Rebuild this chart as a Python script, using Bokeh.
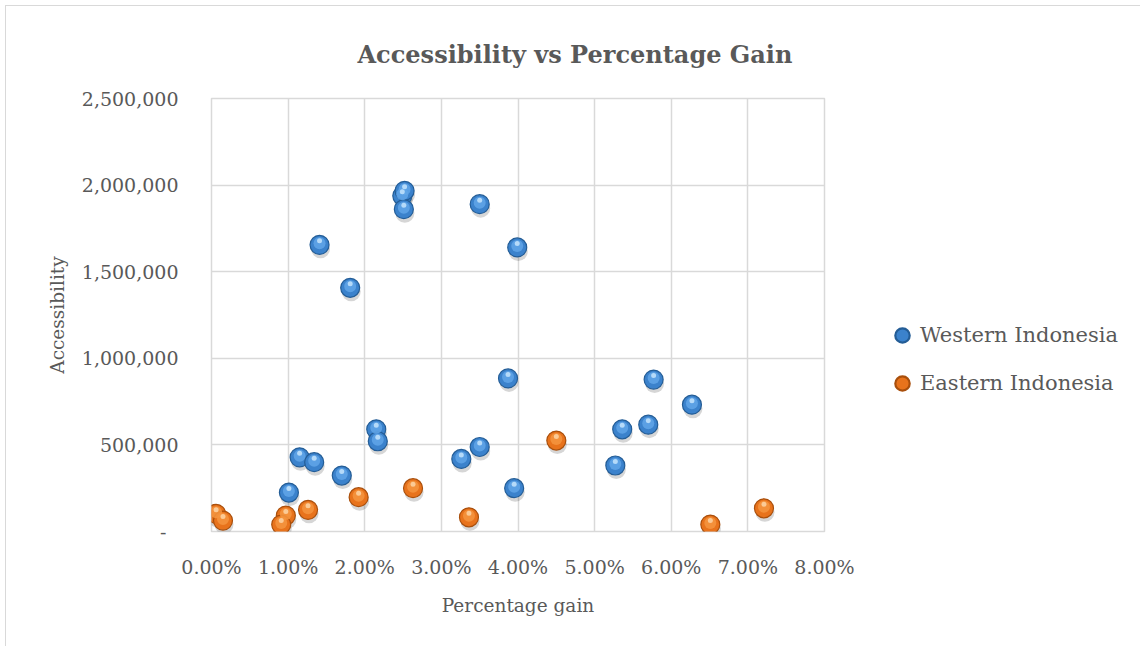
from bokeh.plotting import figure
from bokeh.layouts import row
from bokeh.models import (Range1d, FixedTicker, CustomJSTickFormatter, PrintfTickFormatter,
                          Legend, LegendItem, ColumnDataSource)
from bokeh.embed import file_html
from bokeh.resources import INLINE

# ---- data ----
west_x = [1.41, 1.81, 2.49, 2.52, 2.51, 3.50, 3.99, 3.87, 5.77, 6.27, 5.36,
          5.70, 5.27, 3.95, 3.50, 3.26, 2.15, 2.17, 1.15, 1.34, 1.70, 1.01]
west_y = [1655000, 1407000, 1938000, 1967000, 1861000, 1890000, 1640000, 884000,
          877000, 732000, 590000, 617000, 381000, 250000, 488000, 419000, 590000,
          521000, 428000, 400000, 323000, 225000]
east_x = [0.06, 0.15, 0.97, 0.91, 1.26, 1.92, 2.63, 3.36, 4.50, 6.51, 7.21]
east_y = [102000, 63000, 92000, 40000, 125000, 198000, 250000, 82000, 525000, 40000, 134000]
x_ticks = [0, 1, 2, 3, 4, 5, 6, 7, 8]
y_ticks = [0, 500000, 1000000, 1500000, 2000000, 2500000]
series_names = ["Western Indonesia", "Eastern Indonesia"]

FONT = "DejaVu Serif"
GREY = "#595959"
GRID = "#d9d9d9"

ML, MR, MT, MB = 205, 40, 92, 116
W, H = 858, 641
frame_w = W - ML - MR
frame_h = H - MT - MB

p = figure(width=W, height=H, output_backend="svg", toolbar_location=None,
           x_range=Range1d(x_ticks[0], x_ticks[-1]), y_range=Range1d(y_ticks[0], y_ticks[-1]),
           min_border_left=ML, min_border_right=MR, min_border_top=MT, min_border_bottom=MB,
           title="Accessibility vs Percentage Gain")
p.margin = (5, 0, 0, 5)
p.styles = {"border-left": "1px solid #d9d9d9", "border-top": "1px solid #d9d9d9"}

p.title.text_font = FONT
p.title.text_font_size = "24px"
p.title.text_font_style = "bold"
p.title.text_color = GREY
p.title.align = "left"
p.title.offset = 146
p.title.standoff = 60

p.outline_line_color = GRID
p.outline_line_width = 1.5
p.background_fill_color = "white"
p.border_fill_color = "white"

for ax in (p.xaxis[0], p.yaxis[0]):
    ax.axis_line_color = None
    ax.major_tick_line_color = None
    ax.minor_tick_line_color = None
    ax.major_label_text_font = FONT
    ax.major_label_text_font_size = "19px"
    ax.major_label_text_color = GREY
    ax.axis_label_text_font = FONT
    ax.axis_label_text_font_size = "18.5px"
    ax.axis_label_text_color = GREY
    ax.axis_label_text_font_style = "normal"

p.xaxis.ticker = FixedTicker(ticks=x_ticks)
p.xaxis.formatter = PrintfTickFormatter(format="%.2f%%")
p.xaxis.axis_label = "Percentage gain"
p.xaxis.major_label_standoff = 18
p.xaxis.axis_label_standoff = 14

p.yaxis.ticker = FixedTicker(ticks=y_ticks)
p.yaxis.formatter = CustomJSTickFormatter(
    code='if (tick == 0) { return "-\\u00a0\\u00a0"; } return tick.toLocaleString("en-US");')
p.yaxis.axis_label = "Accessibility"
p.yaxis.major_label_standoff = 27
p.yaxis.axis_label_standoff = 11

p.xgrid.grid_line_color = GRID
p.ygrid.grid_line_color = GRID
p.xgrid.grid_line_width = 1.5
p.ygrid.grid_line_width = 1.5

# pixel -> data conversion for small visual offsets of sphere shading
dx = (x_ticks[-1] - x_ticks[0]) / frame_w
dy = (y_ticks[-1] - y_ticks[0]) / frame_h


def shifted(xs, ys, ox, oy):
    return ColumnDataSource(dict(x=[v + ox * dx for v in xs], y=[v - oy * dy for v in ys]))


series = [
    (west_x, west_y, "#3b82cc", "#245d96", "#62a6e8", "#bfe0fb"),
    (east_x, east_y, "#e8731c", "#a94f0c", "#f5953f", "#fcd0a0"),
]
# shadows first
for xs, ys, *_ in series:
    p.scatter("x", "y", source=shifted(xs, ys, 1, 4), size=19, fill_color="black",
              fill_alpha=0.16, line_color=None)

for xs, ys, base, edge, mid, hi in series:
    p.scatter("x", "y", source=shifted(xs, ys, 0, 0), size=19, fill_color=base,
              line_color=edge, line_width=1.2)
    p.scatter("x", "y", source=shifted(xs, ys, 0, -1.5), size=12, fill_color=mid,
              fill_alpha=0.85, line_color=None)
    p.scatter("x", "y", source=shifted(xs, ys, 0, -4), size=5, fill_color=hi,
              fill_alpha=0.9, line_color=None)

# ---- legend panel (separate figure, so the legend is not clipped by the plot frame) ----
LW = 1141 - 6 - W
q = figure(width=LW, height=H, output_backend="svg", toolbar_location=None,
           x_axis_type=None, y_axis_type=None, x_range=Range1d(-2, -1), y_range=Range1d(-2, -1),
           min_border_left=0, min_border_right=0, min_border_top=0, min_border_bottom=0)
q.margin = (5, 0, 0, 0)
q.styles = {"border-top": "1px solid #d9d9d9"}
q.outline_line_color = None
q.grid.visible = False
q.background_fill_color = "white"
q.border_fill_color = "white"

items = []
for name, (xs, ys, base, edge, mid, hi) in zip(series_names, series):
    # same series data; the ranges of this panel keep the points out of view
    r = q.scatter(x=xs, y=ys, fill_color=base, line_color=edge, line_width=2.2)
    items.append(LegendItem(label=name, renderers=[r]))

legend = Legend(items=items, location=(21, 128), orientation="vertical")
legend.glyph_width = 36
legend.glyph_height = 40
legend.label_standoff = 0
legend.spacing = 8
legend.padding = 0
legend.margin = 0
legend.border_line_color = None
legend.background_fill_alpha = 0
legend.label_text_font = FONT
legend.label_text_font_size = "21px"
legend.label_text_color = GREY
q.add_layout(legend, "center")

layout = row(p, q)
open("out.html", "w").write(file_html(layout, INLINE))
